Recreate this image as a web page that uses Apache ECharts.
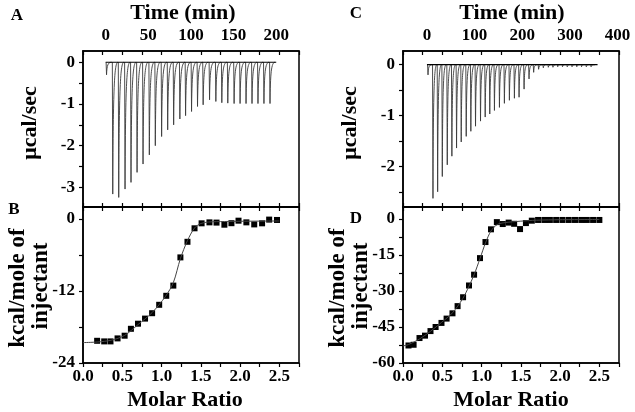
<!DOCTYPE html>
<html>
<head>
<meta charset="utf-8">
<script src="https://cdn.jsdelivr.net/npm/echarts@6/dist/echarts.min.js"></script>
<style>html,body{margin:0;padding:0;background:#fff}#c{width:635px;height:412px}</style>
</head>
<body>
<div id="c"></div>
<script>
// ---- Panel A (raw thermogram) ----
const injTimeA = [0.5, 7.8, 14.8, 22.2, 29.2, 36.3, 43.3, 50.7, 57.7, 65.1, 72.2, 79.2, 86.5, 93.2, 100.2, 107.2, 113.8, 121.3, 128.7, 135.7, 142.7, 150.1, 157.1, 164.1, 171.1, 178.1, 185.1, 192.2];
const peakA = [-0.3, -3.16, -3.24, -3.04, -2.88, -2.64, -2.44, -2.22, -2.0, -1.78, -1.62, -1.5, -1.36, -1.28, -1.18, -1.06, -1.02, -0.9, -0.94, -0.97, -0.98, -0.99, -0.99, -0.99, -0.99, -0.99, -0.99, -0.99];
const baselineTimeA = [0, 200];
// ---- Panel B (integrated heats) ----
const ratioB = [0.18, 0.27, 0.35, 0.44, 0.53, 0.61, 0.70, 0.79, 0.88, 0.97, 1.06, 1.15, 1.24, 1.33, 1.42, 1.51, 1.61, 1.70, 1.80, 1.89, 1.98, 2.08, 2.18, 2.28, 2.37, 2.47];
const heatB = [-20.3, -20.4, -20.4, -19.9, -19.45, -18.3, -17.45, -16.6, -15.7, -14.3, -12.8, -11.1, -6.4, -3.8, -1.55, -0.72, -0.56, -0.6, -0.95, -0.7, -0.28, -0.56, -0.9, -0.72, -0.1, -0.16];
const fitRatioB = [0, 0.18, 0.36, 0.53, 0.70, 0.88, 1.05, 1.15, 1.24, 1.33, 1.42, 1.50, 1.60, 1.80, 2.00, 2.25, 2.50];
const fitHeatB = [-20.6, -20.5, -20.2, -19.4, -17.6, -15.6, -12.9, -10.6, -6.6, -3.6, -1.5, -0.75, -0.5, -0.42, -0.38, -0.35, -0.33];
// ---- Panel C (raw thermogram) ----
const injTimeC = [1.3, 11.7, 21.5, 31.3, 41.7, 51.4, 61.2, 71.0, 81.5, 91.2, 101, 111.5, 121.3, 130.9, 140.7, 151.2, 161.6, 172.1, 182.6, 192.4, 202.9, 213.3, 223, 233.4, 243.3, 253.8, 263.5, 273.5, 283.5, 293.5, 303.5, 313.5, 323.5, 333.5, 343.5];
const peakC = [-0.2, -2.63, -2.5, -2.2, -1.97, -1.8, -1.64, -1.52, -1.41, -1.31, -1.21, -1.11, -1.03, -0.97, -0.9, -0.84, -0.76, -0.7, -0.66, -0.64, -0.48, -0.28, -0.15, -0.09, -0.06, -0.05, -0.05, -0.04, -0.04, -0.04, -0.04, -0.04, -0.04, -0.04, -0.04];
const baselineTimeC = [0, 358];
// ---- Panel D (integrated heats) ----
const ratioD = [0.07, 0.135, 0.21, 0.28, 0.35, 0.415, 0.49, 0.555, 0.63, 0.695, 0.765, 0.84, 0.905, 0.98, 1.05, 1.12, 1.195, 1.27, 1.345, 1.415, 1.49, 1.565, 1.64, 1.72, 1.80, 1.87, 1.95, 2.03, 2.11, 2.19, 2.27, 2.34, 2.42, 2.50];
const heatD = [-52.7, -52.4, -49.6, -48.6, -46.7, -45, -43.3, -41.5, -39.3, -36.3, -32.6, -27.7, -23.2, -16.3, -9.6, -4.3, -1.3, -2.1, -1.5, -2.0, -4.2, -1.7, -0.7, -0.4, -0.4, -0.4, -0.4, -0.4, -0.4, -0.4, -0.4, -0.4, -0.4, -0.4];
const fitRatioD = [0, 0.07, 0.21, 0.35, 0.49, 0.63, 0.76, 0.84, 0.91, 0.98, 1.05, 1.12, 1.2, 1.3, 1.5, 1.7, 2.0, 2.5];
const fitHeatD = [-52.9, -52.3, -50, -46.8, -43.1, -39.1, -33.2, -28, -22.8, -16.5, -10, -5, -2.3, -1.5, -0.9, -0.5, -0.3, -0.2];
// ---- Tick labels ----
const timeLabelsA = [0, 50, 100, 150, 200];
const timeLabelsC = [0, 100, 200, 300, 400];
const powerLabelsA = [0, -1, -2, -3];
const powerLabelsC = [0, -1, -2];
const heatLabelsB = [0, -12, -24];
const heatLabelsD = [0, -15, -30, -45, -60];
const ratioLabels = [0, 0.5, 1.0, 1.5, 2.0, 2.5];

const FONT = 'Liberation Serif';
const chart = echarts.init(document.getElementById('c'));

const rng = (a, b, s) => { const r = []; for (let v = a; v <= b + 1e-9; v += s) r.push(+v.toFixed(4)); return r; };
const ratioTicks = rng(0, 2.75, 0.25);
const timeRanges = { A: [-26.6, 226.7], C: [-50.3, 403] };
const mirrorTicks = (rg) => ratioTicks.map(r => rg[0] + (rg[1] - rg[0]) * r / 2.75);

const grids = [
  { left: 83, top: 51, width: 216, height: 156 },
  { left: 83, top: 207, width: 216, height: 156 },
  { left: 403, top: 51, width: 216, height: 156 },
  { left: 403, top: 207, width: 216, height: 156 }
].map(g => Object.assign(g, { show: true, borderColor: '#000', borderWidth: 1.5, containLabel: false }));

const lbl = { fontFamily: FONT, fontWeight: 'bold', fontSize: 17, color: '#000' };
const line = { show: true, onZero: false, lineStyle: { color: '#000', width: 1.5 } };

function timeAxis(gi, rg, labels) {
  return { type: 'value', gridIndex: gi, position: 'top', min: rg[0], max: rg[1],
    axisLine: line, splitLine: { show: false },
    axisTick: { show: true, inside: true, length: 4, customValues: mirrorTicks(rg), lineStyle: { color: '#000', width: 1.2 } },
    axisLabel: Object.assign({ customValues: labels, margin: 7 }, lbl) };
}
function ratioAxis(gi, pos, showLabels, inside) {
  return { type: 'value', gridIndex: gi, position: pos, min: 0, max: 2.75,
    axisLine: line, splitLine: { show: false },
    axisTick: { show: true, inside: inside, length: 4, customValues: ratioTicks, lineStyle: { color: '#000', width: 1.2 } },
    axisLabel: Object.assign({ show: showLabels, customValues: ratioLabels, margin: 5, formatter: v => v.toFixed(1) }, lbl) };
}
function leftAxis(gi, mn, mx, ticks, labels) {
  return { type: 'value', gridIndex: gi, position: 'left', min: mn, max: mx,
    axisLine: line, splitLine: { show: false },
    axisTick: { show: true, inside: false, length: 4, customValues: ticks, lineStyle: { color: '#000', width: 1.2 } },
    axisLabel: Object.assign({ customValues: labels, margin: 8 }, lbl) };
}

const xAxis = [
  timeAxis(0, timeRanges.A, timeLabelsA),
  ratioAxis(0, 'bottom', false, true),
  ratioAxis(1, 'bottom', true, false),
  ratioAxis(1, 'top', false, true),
  timeAxis(2, timeRanges.C, timeLabelsC),
  ratioAxis(2, 'bottom', false, true),
  ratioAxis(3, 'bottom', true, false),
  ratioAxis(3, 'top', false, true)
];
const yAxis = [
  leftAxis(0, -3.47, 0.27, rng(-3, 0, 0.5), powerLabelsA),
  leftAxis(1, -24, 2, rng(-24, 0, 6), heatLabelsB),
  leftAxis(2, -2.8, 0.27, rng(-2.5, 0, 0.5), powerLabelsC),
  leftAxis(3, -60, 5, rng(-60, 0, 7.5), heatLabelsD)
];

function peakRenderer(drop, recover) {
  return function (params, api) {
    const t = api.value(0), h = api.value(1);
    const p0 = api.coord([t, 0]);
    const p1 = api.coord([t + drop, h]);
    const p2 = api.coord([t + recover, 0]);
    const dx = p2[0] - p1[0], dy = p0[1] - p1[1];
    const path = 'M' + p0[0] + ' ' + p0[1] + ' L' + p1[0] + ' ' + p1[1] +
      ' C' + (p1[0] + dx * 0.08) + ' ' + (p1[1] + dy * 0.75) + ' ' + (p1[0] + dx * 0.25) + ' ' + p0[1] + ' ' + p2[0] + ' ' + p2[1];
    return { type: 'path', shape: { pathData: path }, style: { stroke: '#3a3a3a', fill: null, lineWidth: 0.9 }, silent: true };
  };
}

const series = [
  { type: 'line', xAxisIndex: 0, yAxisIndex: 0, data: baselineTimeA.map(t => [t, 0]), symbol: 'none', lineStyle: { color: '#000', width: 1.2 }, z: 3 },
  { type: 'custom', xAxisIndex: 0, yAxisIndex: 0, data: injTimeA.map((t, i) => [t, peakA[i]]), renderItem: peakRenderer(0.5, 6.5), clip: true },
  { type: 'line', xAxisIndex: 2, yAxisIndex: 1, data: fitRatioB.map((r, i) => [r, fitHeatB[i]]), symbol: 'none', smooth: 0.3, lineStyle: { color: '#444', width: 1 } },
  { type: 'scatter', xAxisIndex: 2, yAxisIndex: 1, data: ratioB.map((r, i) => [r, heatB[i]]), symbol: 'rect', symbolSize: 6, itemStyle: { color: '#000', opacity: 1 } },
  { type: 'line', xAxisIndex: 4, yAxisIndex: 2, data: baselineTimeC.map(t => [t, 0]), symbol: 'none', lineStyle: { color: '#000', width: 1.2 }, z: 3 },
  { type: 'custom', xAxisIndex: 4, yAxisIndex: 2, data: injTimeC.map((t, i) => [t, peakC[i]]), renderItem: peakRenderer(0.9, 9), clip: true },
  { type: 'line', xAxisIndex: 6, yAxisIndex: 3, data: fitRatioD.map((r, i) => [r, fitHeatD[i]]), symbol: 'none', smooth: 0.3, lineStyle: { color: '#444', width: 1 } },
  { type: 'scatter', xAxisIndex: 6, yAxisIndex: 3, data: ratioD.map((r, i) => [r, heatD[i]]), symbol: 'rect', symbolSize: 6, itemStyle: { color: '#000', opacity: 1 } }
];

const T = (text, x, y, size, rot) => ({ type: 'text', x: x, y: y, rotation: rot || 0, silent: true,
  style: { text: text, font: 'bold ' + size + 'px "' + FONT + '"', fill: '#000', textAlign: 'center', textVerticalAlign: 'middle' } });
const R = Math.PI / 2;
const graphic = [
  T('A', 17, 16, 17), T('B', 14, 210, 17), T('C', 356, 14, 17), T('D', 356, 219, 17),
  T('Time (min)', 183, 13, 22), T('Time (min)', 512, 13, 22),
  T('\u03bccal/sec', 30, 123, 22, R), T('\u03bccal/sec', 350, 123, 22, R),
  T('kcal/mole of', 18, 288, 23, R), T('injectant', 41, 286, 23, R),
  T('kcal/mole of', 338, 288, 23, R), T('injectant', 361, 286, 23, R),
  T('Molar Ratio', 185, 400, 22), T('Molar Ratio', 511, 400, 22)
];

chart.setOption({ animation: false, backgroundColor: '#fff', grid: grids, xAxis: xAxis, yAxis: yAxis, series: series, graphic: graphic });
</script>
</body>
</html>
